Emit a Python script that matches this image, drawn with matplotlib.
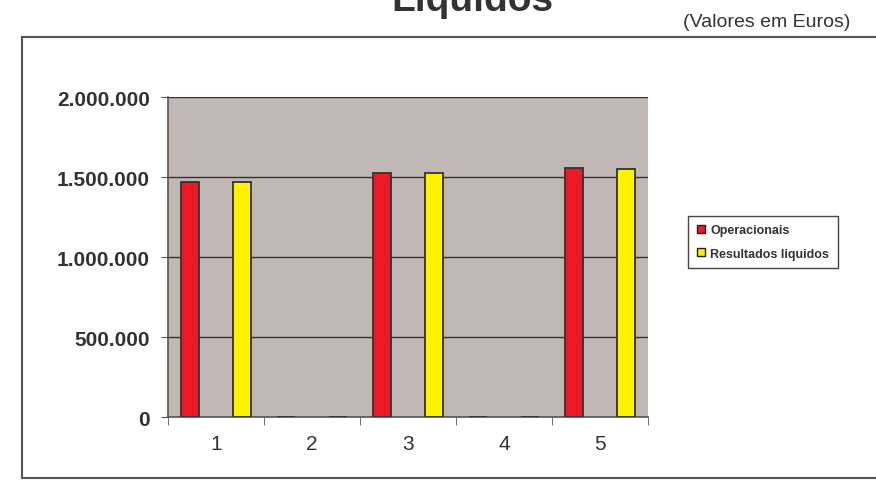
import matplotlib
matplotlib.use('Agg')
import matplotlib.pyplot as plt
import matplotlib.ticker as mticker
from matplotlib.lines import Line2D
import numpy as np

# ── data ────────────────────────────────────────────────
categories = ['1', '2', '3', '4', '5']
operacionais = [1470000, 0, 1528000, 0, 1556000]
liquidos = [1468000, 0, 1527000, 0, 1554000]
series_names = ['Operacionais', 'Resultados liquidos']
y_ticks = [0, 500000, 1000000, 1500000, 2000000]

plt.rcParams['font.family'] = ['Liberation Sans', 'DejaVu Sans']
txt = '#333333'

fig = plt.figure(figsize=(8.76, 4.81), dpi=100)
ax = fig.add_axes([168/876, 1 - 418/481, 480/876, (418 - 98.4)/481])
ax.set_facecolor('#C0B8B5')

x = np.arange(len(categories))
w, off = 0.19, 0.27
ax.bar(x - off, operacionais, w, color='#ED1C24', edgecolor='#333333', linewidth=1.3, zorder=3)
ax.bar(x + off, liquidos, w, color='#FFF200', edgecolor='#333333', linewidth=1.3, zorder=3)

ax.set_xlim(-0.5, len(categories) - 0.5)
ax.set_ylim(0, 2000000)
ax.set_yticks(y_ticks)
ax.yaxis.set_major_formatter(mticker.FuncFormatter(lambda v, p: f"{int(v):,}".replace(',', '.')))
ax.grid(axis='y', color='#333333', linewidth=1, zorder=1)
ax.set_axisbelow(True)

ax.set_xticks(x)
ax.set_xticklabels(categories)
ax.set_xticks(np.arange(-0.5, len(categories)), minor=True)
ax.tick_params(axis='x', which='major', length=0, pad=12, labelsize=15, labelcolor=txt)
ax.tick_params(axis='x', which='minor', length=6, color='#555555', direction='out')
ax.tick_params(axis='y', length=5, color='#555555', labelsize=15, labelcolor=txt, pad=8)
for lab in ax.get_yticklabels():
    lab.set_fontweight('bold')

for s in ['top', 'right']:
    ax.spines[s].set_visible(False)
ax.spines['left'].set_color('#555555')
ax.spines['bottom'].set_color('#555555')
ax.spines['left'].set_linewidth(1.2)
ax.spines['bottom'].set_linewidth(1.2)

# legend
handles = [Line2D([], [], marker='s', linestyle='none', markersize=5.5,
                  markerfacecolor=c, markeredgecolor='#222222', markeredgewidth=1)
           for c in ['#ED1C24', '#FFF200']]
leg = fig.legend(handles, series_names, loc='center left',
                 bbox_to_anchor=(688/876, 1 - 243/481), frameon=True,
                 fancybox=False, edgecolor='#444444', framealpha=1,
                 prop={'weight': 'bold', 'size': 9}, handlelength=0.6,
                 handletextpad=0.5, borderpad=0.7, labelspacing=0.9,
                 borderaxespad=0)
leg.get_frame().set_linewidth(1)
for t in leg.get_texts():
    t.set_color(txt)

# outer frame (runs off the right and bottom edges)
fx0, fy0 = 22/876, 1 - 38/481
fyb = 1 - 479/481
fig.add_artist(Line2D([fx0, 1.0], [fy0, fy0], color='#555555', lw=1.5, transform=fig.transFigure))
fig.add_artist(Line2D([fx0, fx0], [fy0, fyb], color='#555555', lw=1.5, transform=fig.transFigure))
fig.add_artist(Line2D([fx0, 1.0], [fyb, fyb], color='#555555', lw=1.5, transform=fig.transFigure))

# title (cut off at the top, as in the source) and units note
fig.text(472/876, 1 - 11/481, 'Liquidos', ha='center', va='baseline',
         fontsize=28, fontweight='bold', color=txt)
fig.text(850/876, 1 - 27/481, '(Valores em Euros)', ha='right', va='baseline',
         fontsize=14, color=txt)

fig.savefig('out.png', dpi=100)
